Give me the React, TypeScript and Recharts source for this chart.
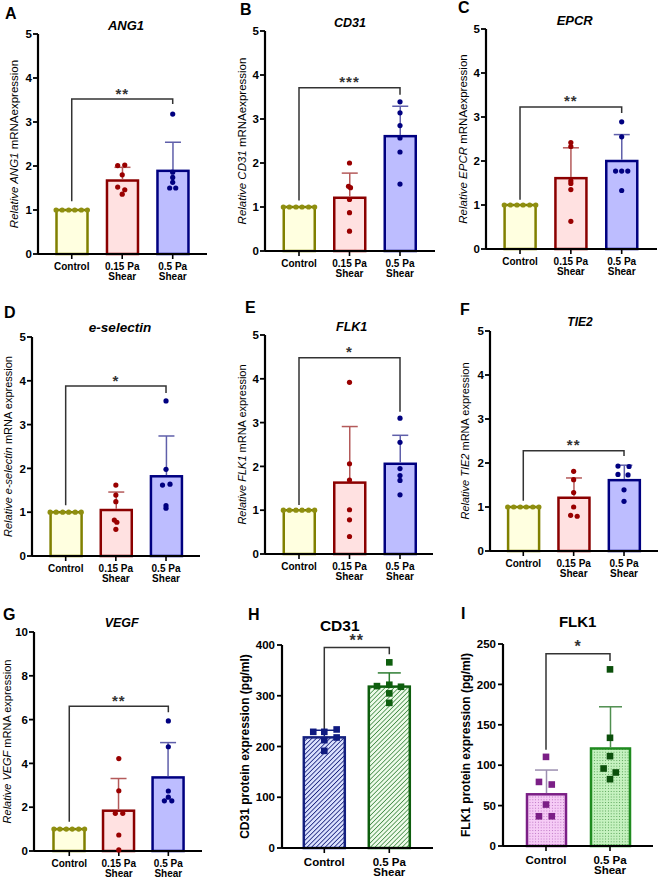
import React from 'react';
import { ComposedChart, Bar, Scatter, XAxis, YAxis } from 'recharts';

const FONT = '"Liberation Sans", Arial, Helvetica, sans-serif';

// ---------- DATA ----------
const mrnaCategories = ['Control', '0.15 Pa\nShear', '0.5 Pa\nShear'];
const proteinCategories = ['Control', '0.5 Pa\nShear'];
const mrnaTicks = [0, 1, 2, 3, 4, 5];
const vegfTicks = [0, 2, 4, 6, 8, 10];
const cd31ProteinTicks = [0, 100, 200, 300, 400];
const flk1ProteinTicks = [0, 50, 100, 150, 200, 250];

const controlOnes = [1, 1, 1, 1, 1, 1];
const controlJitter = [-0.31, -0.19, -0.06, 0.06, 0.19, 0.31];

// A ANG1
const ang1Means = [1.0, 1.67, 1.89];
const ang1SDs = [0, 0.3, 0.65];
const ang1Points = [controlOnes, [2.01, 2.02, 1.8, 1.52, 1.46, 1.36], [3.18, 1.86, 1.74, 1.63, 1.5, 1.5]];
const ang1Jitter = [controlJitter, [-0.09, 0.05, 0, -0.09, 0.05, 0], [0, 0, 0, 0, -0.06, 0.06]];
const ang1Bracket = [1.2, 3.52, 3.41];

// B CD31
const cd31Means = [1.0, 1.21, 2.61];
const cd31SDs = [0, 0.56, 0.68];
const cd31Points = [controlOnes, [2.0, 1.47, 1.44, 1.17, 0.87, 0.45], [3.39, 3.14, 2.85, 2.57, 2.25, 1.52]];
const cd31Jitter = [controlJitter, [0, -0.02, 0.02, 0, 0, 0], [0, 0, 0, 0, 0, 0]];
const cd31Bracket = [1.15, 3.71, 3.55];

// C EPCR
const epcrMeans = [1.0, 1.61, 2.0];
const epcrSDs = [0, 0.69, 0.6];
const epcrPoints = [controlOnes, [2.42, 2.33, 1.55, 1.49, 1.35, 0.63], [2.89, 2.55, 1.77, 1.77, 1.77, 1.33]];
const epcrJitter = [controlJitter, [0, 0, 0, 0, 0, 0], [0, 0, -0.12, 0, 0.12, 0]];
const epcrBracket = [1.12, 3.23, 3.09];

// D e-selectin
const eselMeans = [1.0, 1.05, 1.82];
const eselSDs = [0, 0.41, 0.92];
const eselPoints = [controlOnes, [1.62, 1.39, 1.24, 0.82, 0.77, 0.61], [3.54, 1.98, 1.62, 1.64, 1.15, 1.09]];
const eselJitter = [controlJitter, [0, 0, 0, -0.03, 0.02, 0], [0, 0, -0.07, 0.08, 0, 0]];
const eselBracket = [1.16, 3.88, 3.72];

// E FLK1 mRNA
const flk1Means = [1.0, 1.63, 2.06];
const flk1SDs = [0, 1.28, 0.65];
const flk1Points = [controlOnes, [3.92, 2.06, 1.69, 1.01, 0.78, 0.4], [3.1, 2.55, 1.95, 1.79, 1.68, 1.35]];
const flk1Jitter = [controlJitter, [0, 0, 0, 0, 0, 0], [0, 0, 0, 0, 0, 0]];
const flk1Bracket = [1.12, 4.48, 3.25];

// F TIE2
const tie2Means = [1.0, 1.21, 1.61];
const tie2SDs = [0, 0.45, 0.34];
const tie2Points = [controlOnes, [1.81, 1.62, 1.33, 1.0, 0.81, 0.79], [1.93, 1.92, 1.74, 1.73, 1.39, 1.13]];
const tie2Jitter = [controlJitter, [0, 0, 0, 0, -0.06, 0.07], [-0.12, 0.1, -0.12, 0.08, 0, 0]];
const tie2Bracket = [1.14, 2.28, 2.16];

// G VEGF
const vegfMeans = [1.0, 1.84, 3.36];
const vegfSDs = [0, 1.47, 1.59];
const vegfPoints = [controlOnes, [4.22, 2.75, 1.72, 1.72, 0.73, 0.05], [5.94, 4.76, 2.74, 2.46, 2.29, 2.29]];
const vegfJitter = [controlJitter, [0, 0, -0.07, 0.08, 0, 0], [0, 0, 0, 0, -0.08, 0.07]];
const vegfBracket = [1.34, 6.61, 6.34];

// H CD31 protein
const cd31ProtMeans = [218, 318];
const cd31ProtSDs = [14, 27];
const cd31ProtPoints = [[228.9, 228.9, 233.6, 217.8, 212.5, 191.4], [365.8, 319, 321.7, 317.7, 304.7, 286]];
const cd31ProtJitter = [[-0.17, 0, 0.19, 0.19, 0, 0], [0, -0.19, 0, 0.18, 0, 0]];
const cd31ProtBracket = [228, 395, 382];

// I FLK1 protein
const flk1ProtMeans = [64, 120.7];
const flk1ProtSDs = [30, 51.6];
const flk1ProtPoints = [[110.3, 79.3, 76.1, 51.3, 36.8, 36.8], [218.6, 133.9, 111.2, 95.9, 91, 82.7]];
const flk1ProtJitter = [[0, -0.11, 0.09, 0, -0.11, 0.09], [0, 0, 0, -0.1, 0.09, 0]];
const flk1ProtBracket = [119, 238, 229];

// ---------- STYLES ----------
const mrnaStyles = [
  { fill: '#FFFFE0', stroke: '#808000', dot: '#8F8F10', whisker: '#808000' },
  { fill: '#FFE1E1', stroke: '#8B0000', dot: '#990000', whisker: '#B45A5A' },
  { fill: '#BDBDFF', stroke: '#000080', dot: '#000080', whisker: '#5F5FAA' },
];
const cd31ProtStyles = [
  { fill: 'url(#hatchNavy)', stroke: '#14207F', dot: '#0F1A80', whisker: '#14207F' },
  { fill: 'url(#hatchGreen)', stroke: '#0E5E0E', dot: '#0E5E0E', whisker: '#2E7D32' },
];
const flk1ProtStyles = [
  { fill: 'url(#dotPurple)', stroke: '#7B1F86', dot: '#7B1F86', whisker: '#9C8FB0' },
  { fill: 'url(#dotGreen)', stroke: '#1F8A1F', dot: '#0B4F0B', whisker: '#4F8F4F' },
];

const hatchDefs = (
  <defs>
    <pattern id="hatchNavy" patternUnits="userSpaceOnUse" width="3.2" height="3.2" patternTransform="rotate(45)">
      <rect width="3.2" height="3.2" fill="#DDE3FF" />
      <line x1="0" y1="0" x2="0" y2="3.2" stroke="#1A237E" strokeWidth="1.7" />
    </pattern>
    <pattern id="hatchGreen" patternUnits="userSpaceOnUse" width="3.2" height="3.2" patternTransform="rotate(45)">
      <rect width="3.2" height="3.2" fill="#EEFBEA" />
      <line x1="0" y1="0" x2="0" y2="3.2" stroke="#2E7D32" strokeWidth="1.4" />
    </pattern>
  </defs>
);
const dotDefs = (
  <defs>
    <pattern id="dotPurple" patternUnits="userSpaceOnUse" width="2.8" height="2.8">
      <rect width="2.8" height="2.8" fill="#F6CCF6" />
      <circle cx="1.4" cy="1.4" r="0.55" fill="#B060B8" />
    </pattern>
    <pattern id="dotGreen" patternUnits="userSpaceOnUse" width="2.8" height="2.8">
      <rect width="2.8" height="2.8" fill="#C6F2C0" />
      <circle cx="1.4" cy="1.4" r="0.55" fill="#3C8F3C" />
    </pattern>
  </defs>
);

type Part = { t: string; i?: boolean };

function makeCatTick(fontSize: number, dy1: number, dy2: number) {
  return (props: any) => {
    const { x, y, payload } = props;
    const lines = String(payload.value).split('\n');
    return (
      <text x={x} y={y} textAnchor="middle" fontSize={fontSize} fontWeight={700} fill="#000" fontFamily={FONT}>
        {lines.map((ln, i) => (
          <tspan key={i} x={x} dy={i === 0 ? dy1 : dy2}>{ln}</tspan>
        ))}
      </text>
    );
  };
}

function makeValTick(fontSize: number) {
  return (props: any) => {
    const { x, y, payload } = props;
    return (
      <text x={x} y={y} dy="0.36em" textAnchor="end" fontSize={fontSize} fontWeight="bold" fill="#000" stroke="none" fontFamily={FONT}>
        {payload.value}
      </text>
    );
  };
}

function makeYLabel(parts: Part[], fontSize: number, bold: boolean, dx: number) {
  return (props: any) => {
    const vb = props.viewBox || {};
    const x = vb.x + vb.width - dx;
    const y = vb.y + vb.height / 2;
    return (
      <text
        x={x}
        y={y}
        transform={`rotate(-90, ${x}, ${y})`}
        textAnchor="middle"
        dominantBaseline="central"
        fontSize={fontSize}
        fontWeight={bold ? 700 : 400}
        fill="#000"
        fontFamily={FONT}
      >
        {parts.map((p, i) => (
          <tspan key={i} fontStyle={p.i ? 'italic' : 'normal'}>{p.t}</tspan>
        ))}
      </text>
    );
  };
}

function Panel(props: any) {
  const p = props.p;
  const L = p.layout;
  const MT = L.mt;
  const n = p.categories.length;
  const last = n - 1;
  const barData = p.categories.map((name: string, i: number) => ({ name, mean: p.means[i], sd: p.sds[i] }));
  const groupData = p.points.map((vals: number[], g: number) =>
    vals.map((v: number, k: number) => ({ x: g + p.jitter[g][k], y: v }))
  );
  const bracketData = [
    { x: 0, y: p.bracket[0] },
    { x: 0, y: p.bracket[1] },
    { x: last, y: p.bracket[1] },
    { x: last, y: p.bracket[2] },
  ];
  const starData = [{ x: last / 2, y: p.bracket[1] }];
  const width = L.yw + (L.right - L.axisX) + 3;
  const height = MT + (L.bottom - L.top) + L.xh;

  const renderBar = (bp: any) => {
    const st = p.styles[bp.index];
    const { x, y, width: w, height: h } = bp;
    const mean = bp.payload.mean;
    const sd = bp.payload.sd;
    const cx = x + w / 2;
    const wy = mean > 0 ? y - (sd * h) / mean : y;
    return (
      <g>
        <rect x={x} y={y} width={w} height={h} fill={st.fill} stroke={st.stroke} strokeWidth={2.5} />
        {sd > 0 && (
          <g stroke={st.whisker} strokeWidth={1.5}>
            <line x1={cx} x2={cx} y1={y - 1.2} y2={wy} />
            <line x1={cx - L.cap} x2={cx + L.cap} y1={wy} y2={wy} />
          </g>
        )}
      </g>
    );
  };

  const markerShape = (color: string) => (sp: any) => {
    if (p.marker === 'square') {
      const s = 6.6;
      return <rect x={sp.cx - s / 2} y={sp.cy - s / 2} width={s} height={s} fill={color} />;
    }
    return <circle cx={sp.cx} cy={sp.cy} r={2.6} fill={color} />;
  };

  return (
    <div style={{ position: 'absolute', left: L.axisX - L.yw, top: L.top - MT }}>
      <ComposedChart width={width} height={height} data={barData} margin={{ top: MT, right: 3, bottom: 0, left: 0 }}>
        {p.defs}
        <XAxis
          xAxisId="c"
          dataKey="name"
          type="category"
          padding={{ left: L.padL, right: L.padR }}
          axisLine={{ stroke: '#000', strokeWidth: 2 }}
          tickLine={{ stroke: '#000', strokeWidth: 1.6 }}
          tickSize={5}
          tickMargin={2}
          height={L.xh}
          interval={0}
          tick={makeCatTick(L.xFont, L.dy1, L.dy2)}
        />
        <XAxis
          xAxisId="n"
          dataKey="x"
          type="number"
          domain={[-0.5, n - 0.5]}
          ticks={p.categories.map((_: string, i: number) => i)}
          padding={{ left: L.padL, right: L.padR }}
          hide
        />
        <YAxis
          yAxisId="v"
          type="number"
          domain={[0, p.ticks[p.ticks.length - 1]]}
          ticks={p.ticks}
          interval={0}
          width={L.yw}
          stroke="#000"
          axisLine={{ stroke: '#000', strokeWidth: 2.2 }}
          tickLine={{ stroke: '#000', strokeWidth: 1.8 }}
          tickSize={L.ytick}
          tickMargin={L.ymargin}
          tick={makeValTick(L.yFont)}
          label={makeYLabel(p.yLabel, L.labelFont, L.labelBold, L.labelDx)}
        />
        <Bar
          xAxisId="c"
          yAxisId="v"
          dataKey="mean"
          barSize={L.barSize}
          isAnimationActive={false}
          shape={renderBar}
        />
        <Scatter
          xAxisId="n"
          yAxisId="v"
          data={bracketData}
          dataKey="y"
          line={{ stroke: '#333', strokeWidth: 1.5 }}
          lineType="joint"
          shape={() => <g />}
          isAnimationActive={false}
        />
        <Scatter
          xAxisId="n"
          yAxisId="v"
          data={starData}
          dataKey="y"
          shape={(sp: any) => (
            <text x={sp.cx} y={sp.cy - L.starLift} textAnchor="middle" fontSize={L.starFont} fontWeight={700} fill="#333" fontFamily={FONT} letterSpacing={1}>
              {p.stars}
            </text>
          )}
          isAnimationActive={false}
        />
        {groupData.map((gd: any[], g: number) => (
          <Scatter
            key={g}
            xAxisId="n"
            yAxisId="v"
            data={gd}
            dataKey="y"
            shape={markerShape(p.styles[g].dot)}
            isAnimationActive={false}
          />
        ))}
      </ComposedChart>
    </div>
  );
}

const mrnaLayout = {
  mt: 10, yw: 50, xh: 34, xFont: 10, dy1: 8.5, dy2: 10, yFont: 11.5, ytick: 5, ymargin: 1,
  labelFont: 11.5, labelBold: false, barSize: 31, cap: 8, starLift: 0.5, starFont: 15,
};
const protLayout = {
  mt: 22, yw: 50, xh: 30, xFont: 11.5, dy1: 10.5, dy2: 10.5, yFont: 11.5, ytick: 5, ymargin: 2,
  labelFont: 12, labelBold: true, cap: 11.5, starLift: 1.5, starFont: 16,
};

const panels = [
  {
    categories: mrnaCategories, means: ang1Means, sds: ang1SDs, points: ang1Points, jitter: ang1Jitter,
    bracket: ang1Bracket, stars: '**', ticks: mrnaTicks, styles: mrnaStyles, marker: 'circle',
    yLabel: [{ t: 'Relative ', i: true }, { t: 'ANG1', i: true }, { t: ' mRNAexpression' }],
    layout: { ...mrnaLayout, axisX: 38, top: 34, bottom: 254, right: 207, padL: 8.5, padR: 9.05, labelDx: 24.5 },
  },
  {
    categories: mrnaCategories, means: cd31Means, sds: cd31SDs, points: cd31Points, jitter: cd31Jitter,
    bracket: cd31Bracket, stars: '***', ticks: mrnaTicks, styles: mrnaStyles, marker: 'circle',
    yLabel: [{ t: 'Relative ', i: true }, { t: 'CD31', i: true }, { t: ' mRNAexpression' }],
    layout: { ...mrnaLayout, axisX: 265, top: 31, bottom: 251, right: 435, padL: 8.75, padR: 9.75, labelDx: 23.5 },
  },
  {
    categories: mrnaCategories, means: epcrMeans, sds: epcrSDs, points: epcrPoints, jitter: epcrJitter,
    bracket: epcrBracket, stars: '**', ticks: mrnaTicks, styles: mrnaStyles, marker: 'circle',
    yLabel: [{ t: 'Relative ', i: true }, { t: 'EPCR', i: true }, { t: ' mRNAexpression' }],
    layout: { ...mrnaLayout, axisX: 486, top: 29, bottom: 249, right: 657, padL: 8.6, padR: 9.9, labelDx: 23.5 },
  },
  {
    categories: mrnaCategories, means: eselMeans, sds: eselSDs, points: eselPoints, jitter: eselJitter,
    bracket: eselBracket, stars: '*', ticks: mrnaTicks, styles: mrnaStyles, marker: 'circle',
    yLabel: [{ t: 'Relative ', i: true }, { t: 'e-selectin', i: true }, { t: ' mRNA expression' }],
    layout: { ...mrnaLayout, labelFont: 11, axisX: 32, top: 337, bottom: 556, right: 200, padL: 8.6, padR: 8.9, labelDx: 24.3 },
  },
  {
    categories: mrnaCategories, means: flk1Means, sds: flk1SDs, points: flk1Points, jitter: flk1Jitter,
    bracket: flk1Bracket, stars: '*', ticks: mrnaTicks, styles: mrnaStyles, marker: 'circle',
    yLabel: [{ t: 'Relative ', i: true }, { t: 'FLK1', i: true }, { t: ' mRNA expression' }],
    layout: { ...mrnaLayout, labelFont: 11, axisX: 265, top: 335, bottom: 554, right: 433, padL: 8.75, padR: 7.75, labelDx: 23.3 },
  },
  {
    categories: mrnaCategories, means: tie2Means, sds: tie2SDs, points: tie2Points, jitter: tie2Jitter,
    bracket: tie2Bracket, stars: '**', ticks: mrnaTicks, styles: mrnaStyles, marker: 'circle',
    yLabel: [{ t: 'Relative ', i: true }, { t: 'TIE2', i: true }, { t: ' mRNA expression' }],
    layout: { ...mrnaLayout, labelFont: 11, axisX: 490, top: 331, bottom: 551, right: 658, padL: 8.1, padR: 8.8, labelDx: 25.3 },
  },
  {
    categories: mrnaCategories, means: vegfMeans, sds: vegfSDs, points: vegfPoints, jitter: vegfJitter,
    bracket: vegfBracket, stars: '**', ticks: vegfTicks, styles: mrnaStyles, marker: 'circle',
    yLabel: [{ t: 'Relative ', i: true }, { t: 'VEGF', i: true }, { t: ' mRNA expression' }],
    layout: { ...mrnaLayout, labelFont: 11, axisX: 34, top: 632, bottom: 851, right: 202, padL: 10.5, padR: 8.9, labelDx: 27.3 },
  },
  {
    categories: proteinCategories, means: cd31ProtMeans, sds: cd31ProtSDs, points: cd31ProtPoints, jitter: cd31ProtJitter,
    bracket: cd31ProtBracket, stars: '**', ticks: cd31ProteinTicks, styles: cd31ProtStyles, marker: 'square', defs: hatchDefs,
    yLabel: [{ t: 'CD31 protein expression (pg/ml)' }],
    layout: { ...protLayout, barSize: 41, axisX: 282, top: 645, bottom: 848, right: 433, padL: 9.8, padR: 11.2, labelDx: 37 },
  },
  {
    categories: proteinCategories, means: flk1ProtMeans, sds: flk1ProtSDs, points: flk1ProtPoints, jitter: flk1ProtJitter,
    bracket: flk1ProtBracket, stars: '*', ticks: flk1ProteinTicks, styles: flk1ProtStyles, marker: 'square', defs: dotDefs,
    yLabel: [{ t: 'FLK1 protein expression (pg/ml)' }],
    layout: { ...protLayout, barSize: 39, axisX: 503, top: 644, bottom: 846, right: 653, padL: 11, padR: 11, labelDx: 37 },
  },
];

const panelLetters = [
  { t: 'A', x: 5, y: 19 }, { t: 'B', x: 240, y: 15 }, { t: 'C', x: 458, y: 13 },
  { t: 'D', x: 4, y: 318 }, { t: 'E', x: 245, y: 313 }, { t: 'F', x: 460, y: 315 },
  { t: 'G', x: 3, y: 620 }, { t: 'H', x: 248, y: 620 }, { t: 'I', x: 461, y: 619 },
];
const panelTitles = [
  { t: 'ANG1', x: 126, y: 30, italic: true, size: 13 },
  { t: 'CD31', x: 350, y: 26.5, italic: true, size: 12.5 },
  { t: 'EPCR', x: 574.7, y: 25, italic: true, size: 13 },
  { t: 'e-selectin', x: 120, y: 331.5, italic: true, size: 13.5 },
  { t: 'FLK1', x: 351.7, y: 330.5, italic: true, size: 12.5 },
  { t: 'TIE2', x: 580, y: 325.5, italic: true, size: 12 },
  { t: 'VEGF', x: 121.7, y: 626.5, italic: true, size: 12.5 },
  { t: 'CD31', x: 339.7, y: 630.7, italic: false, size: 15.5 },
  { t: 'FLK1', x: 577.7, y: 626.7, italic: false, size: 15 },
];

export default function App() {
  return (
    <div style={{ position: 'absolute', left: 0, top: 0, width: 661, height: 878, overflow: 'hidden', background: '#fff', fontFamily: FONT }}>
      {panels.map((p, i) => (
        <Panel key={i} p={p} />
      ))}
      <svg width={661} height={878} style={{ position: 'absolute', left: 0, top: 0, pointerEvents: 'none' }}>
        {panelLetters.map((l, i) => (
          <text key={'l' + i} x={l.x} y={l.y} fontSize={16} fontWeight={700} fill="#000" fontFamily={FONT}>{l.t}</text>
        ))}
        {panelTitles.map((tt, i) => (
          <text key={'t' + i} x={tt.x} y={tt.y} textAnchor="middle" fontSize={tt.size} fontWeight={700} fontStyle={tt.italic ? 'italic' : 'normal'} fill="#000" fontFamily={FONT}>{tt.t}</text>
        ))}
      </svg>
    </div>
  );
}
